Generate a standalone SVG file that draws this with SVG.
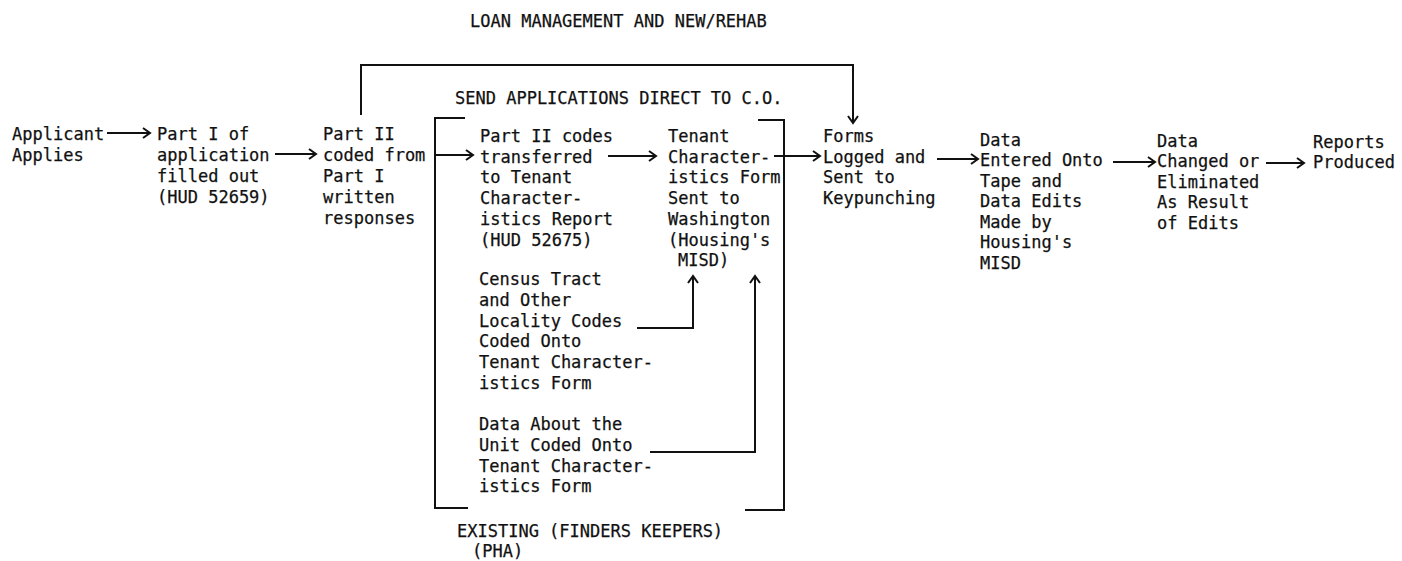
<svg xmlns="http://www.w3.org/2000/svg" width="1402" height="561" viewBox="0 0 1402 561">
<defs>
<style>
text{font-family:"DejaVu Sans Mono","Liberation Mono",monospace;font-size:17px;fill:#111;stroke:#111;stroke-width:0.25}
.c{fill:none;stroke:#111;stroke-width:2;stroke-linejoin:miter}
.a{marker-end:url(#ah)}
</style>
<marker id="ah" markerUnits="userSpaceOnUse" markerWidth="12" markerHeight="14" refX="10" refY="7" orient="auto">
<path d="M3,2 L10,7 L3,12" fill="none" stroke="#111" stroke-width="2"/>
</marker>
</defs>
<rect width="1402" height="561" fill="#fff"/>
<g id="labels">
<text x="470" y="27">LOAN MANAGEMENT AND NEW/REHAB</text>
<text x="455" y="104">SEND APPLICATIONS DIRECT TO C.O.</text>
<text x="457" y="537">EXISTING (FINDERS KEEPERS)</text>
<text x="472" y="557">(PHA)</text>
</g>
<g id="applicant"><text x="12" y="140">Applicant</text><text x="12" y="161">Applies</text></g>
<g id="part1"><text x="157" y="140">Part I of</text><text x="157" y="161">application</text><text x="157" y="182">filled out</text><text x="157" y="203">(HUD 52659)</text></g>
<g id="part2"><text x="323" y="140">Part II</text><text x="323" y="161">coded from</text><text x="323" y="182">Part I</text><text x="323" y="203">written</text><text x="323" y="224">responses</text></g>
<g id="transferred"><text x="480" y="142">Part II codes</text><text x="480" y="162.7">transferred</text><text x="480" y="183.4">to Tenant</text><text x="480" y="204.1">Character-</text><text x="480" y="224.8">istics Report</text><text x="480" y="245.5">(HUD 52675)</text></g>
<g id="census"><text x="479" y="285">Census Tract</text><text x="479" y="305.8">and Other</text><text x="479" y="326.6">Locality Codes</text><text x="479" y="347.4">Coded Onto</text><text x="479" y="368.2">Tenant Character-</text><text x="479" y="389">istics Form</text></g>
<g id="unitdata"><text x="479" y="430">Data About the</text><text x="479" y="450.8">Unit Coded Onto</text><text x="479" y="471.6">Tenant Character-</text><text x="479" y="492.4">istics Form</text></g>
<g id="tcform"><text x="668" y="142">Tenant</text><text x="668" y="162.7">Character-</text><text x="668" y="183.4">istics Form</text><text x="668" y="204.1">Sent to</text><text x="668" y="224.8">Washington</text><text x="668" y="245.5">(Housing's</text><text x="678" y="266.2">MISD)</text></g>
<g id="forms"><text x="823" y="142">Forms</text><text x="823" y="162.7">Logged and</text><text x="823" y="183.4">Sent to</text><text x="823" y="204.1">Keypunching</text></g>
<g id="entered"><text x="980" y="145.5">Data</text><text x="980" y="166">Entered Onto</text><text x="980" y="186.5">Tape and</text><text x="980" y="207">Data Edits</text><text x="980" y="227.5">Made by</text><text x="980" y="248">Housing's</text><text x="980" y="268.5">MISD</text></g>
<g id="changed"><text x="1157" y="146.5">Data</text><text x="1157" y="167">Changed or</text><text x="1157" y="187.5">Eliminated</text><text x="1157" y="208">As Result</text><text x="1157" y="228.5">of Edits</text></g>
<g id="reports"><text x="1313" y="147.5">Reports</text><text x="1313" y="168">Produced</text></g>
<g id="connectors">
<path class="c" d="M465,118 H435 V508 H468"/>
<path class="c" d="M758,120 H784 V510 H745"/>
<path class="c a" d="M107,133 H150"/>
<path class="c a" d="M275,154 H316"/>
<path class="c a" d="M435,155 H473"/>
<path class="c a" d="M608,156 H656"/>
<path class="c a" d="M774,156 H820"/>
<path class="c a" d="M937,159 H978"/>
<path class="c a" d="M1113,162 H1155"/>
<path class="c a" d="M1266,163 H1304"/>
<path class="c a" d="M361,115 V65 H853 V123"/>
<path class="c a" d="M637,328 H693 V276"/>
<path class="c a" d="M650,452 H755 V276"/>
</g>
</svg>
